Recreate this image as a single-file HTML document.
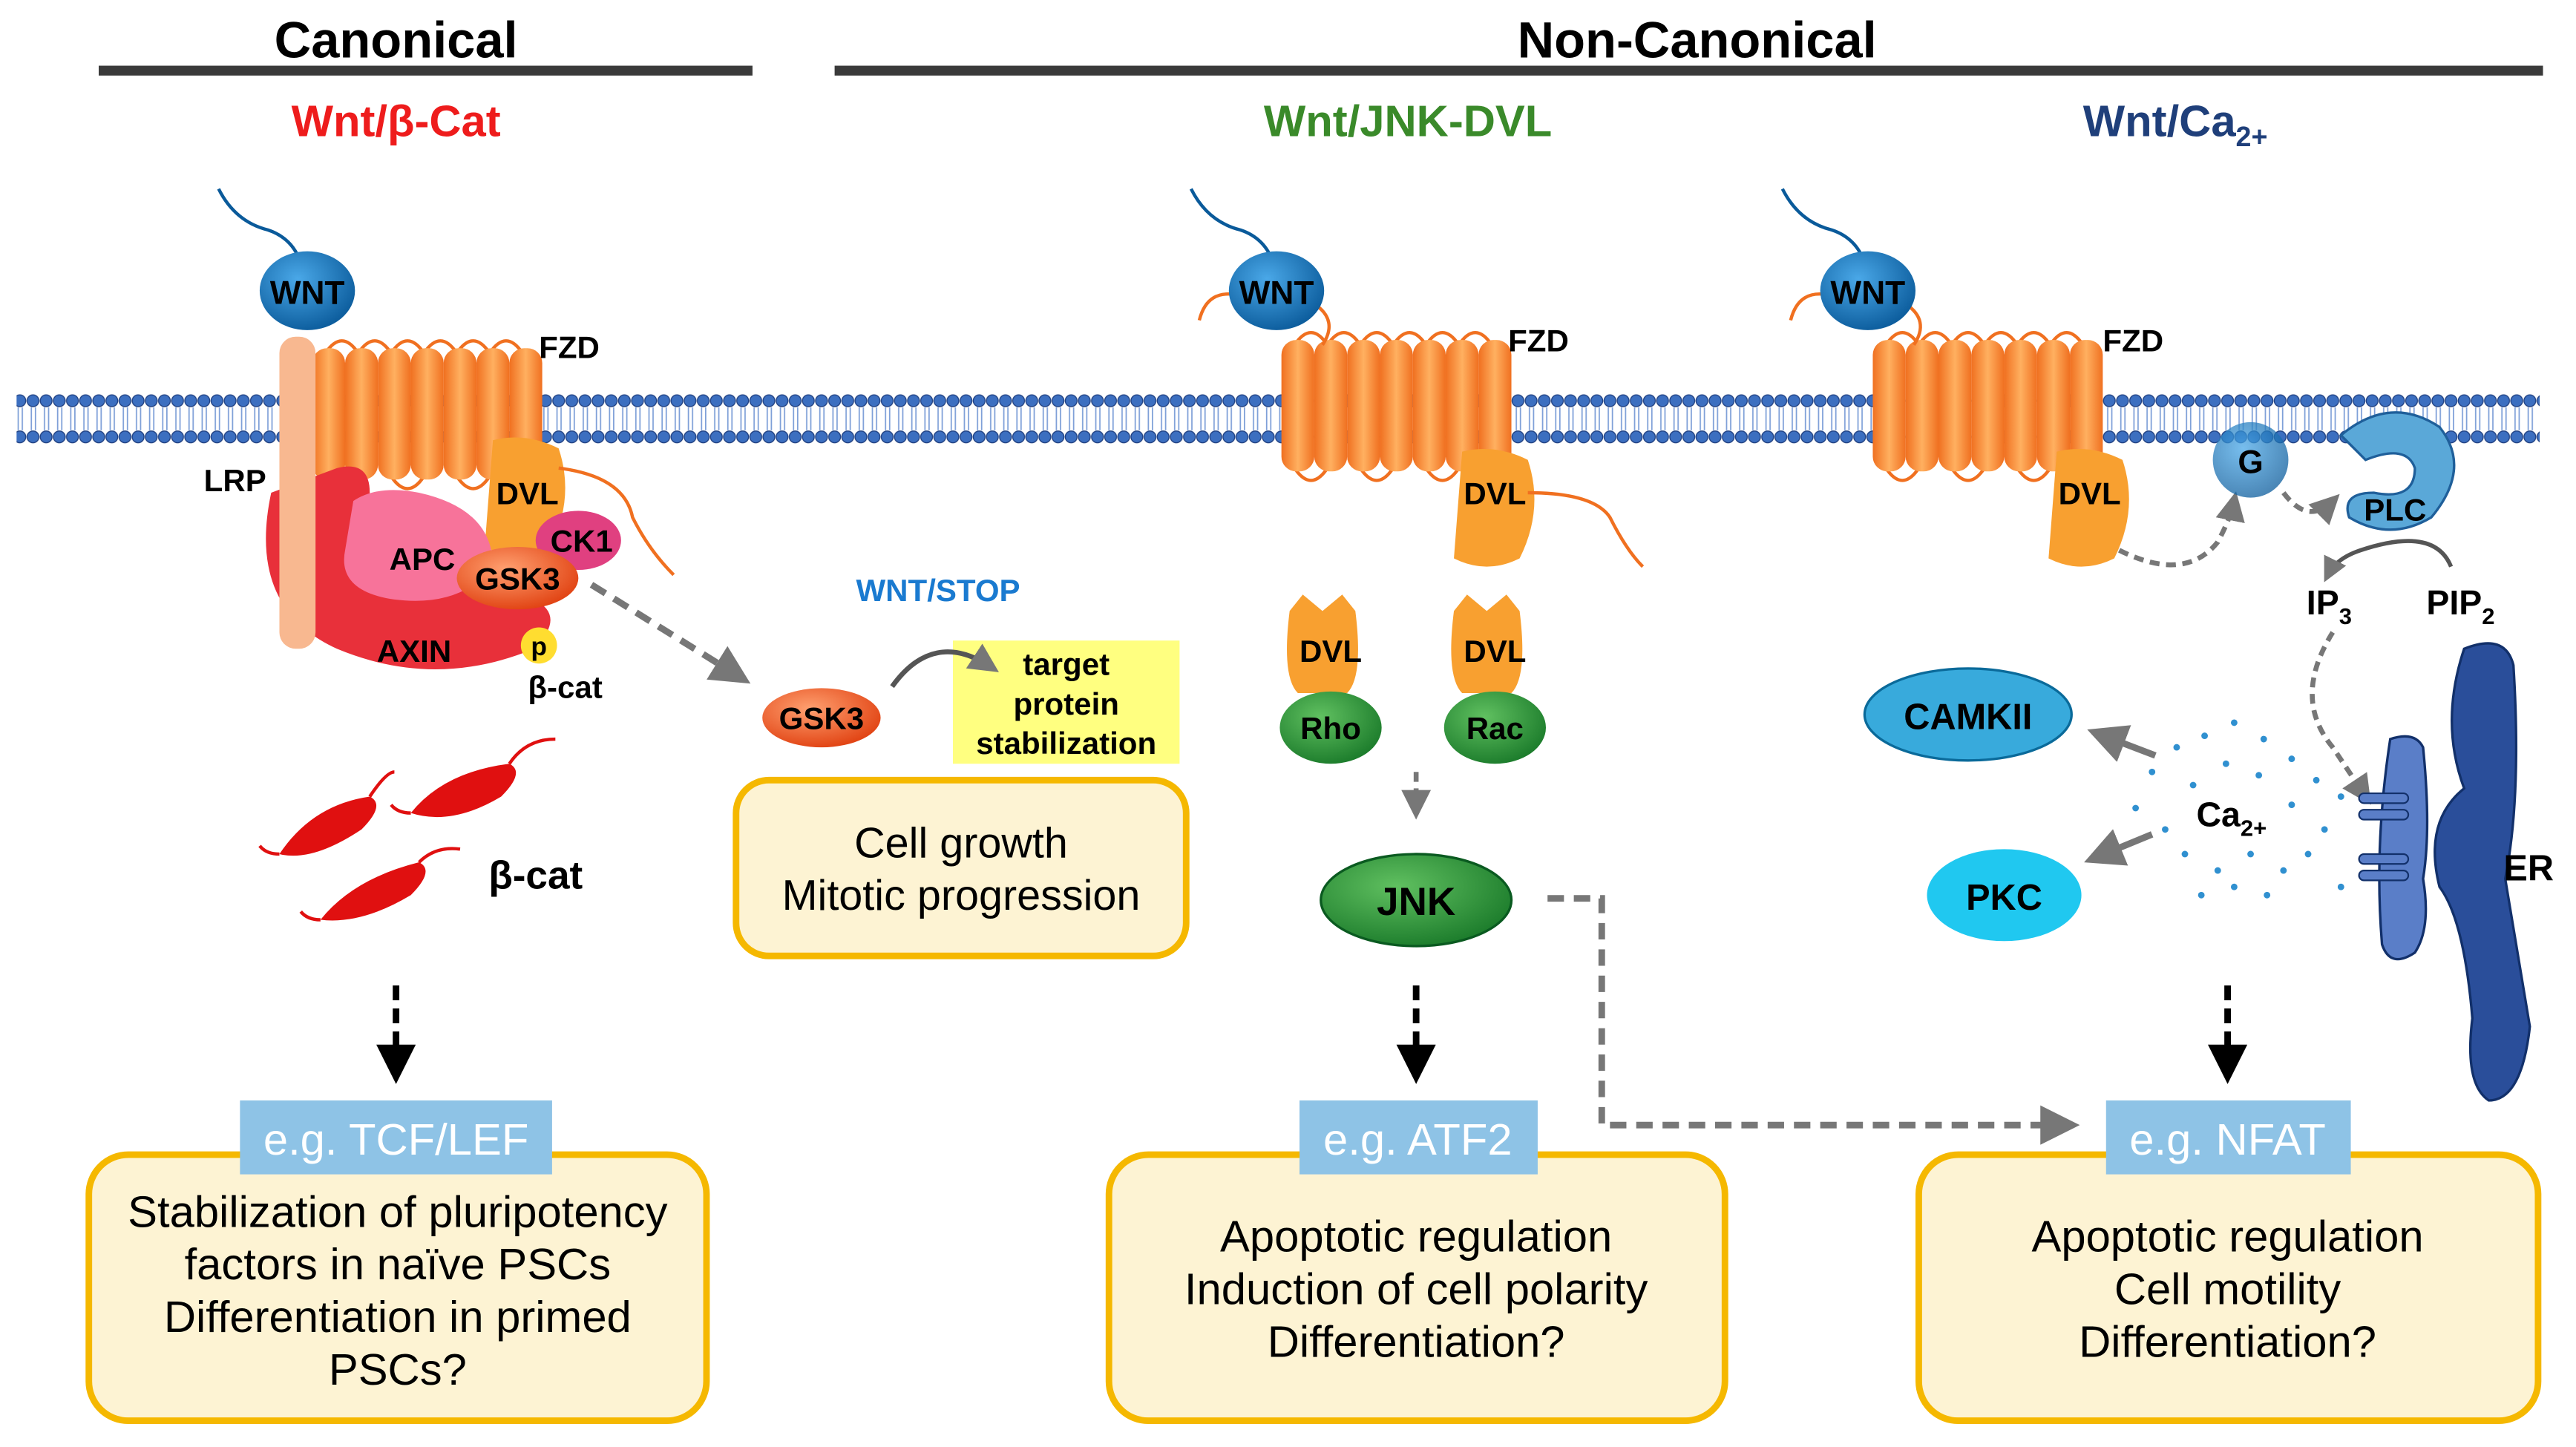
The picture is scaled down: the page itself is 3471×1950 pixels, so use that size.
<!DOCTYPE html>
<html><head><meta charset="utf-8">
<style>
html,body{margin:0;padding:0;background:#fff;}
svg{display:block;}
text{font-family:"Liberation Sans",Arial,sans-serif;}
</style></head>
<body>
<svg width="3471" height="1950" viewBox="0 0 1568 881" xmlns="http://www.w3.org/2000/svg">
<defs>
<pattern id="bead" x="0" y="0" width="8" height="30" patternUnits="userSpaceOnUse">
<circle cx="4" cy="4" r="3.6" fill="#3c6fc0" stroke="#1f3f80" stroke-width="0.6"/>
<circle cx="4" cy="26" r="3.6" fill="#3c6fc0" stroke="#1f3f80" stroke-width="0.6"/>
<line x1="3" y1="8" x2="3" y2="22" stroke="#7fa0d8" stroke-width="0.8"/>
<line x1="5.5" y1="8" x2="5.5" y2="22" stroke="#7fa0d8" stroke-width="0.8"/>
</pattern>
<linearGradient id="org" x1="0" y1="0" x2="1" y2="0">
<stop offset="0" stop-color="#f07020"/><stop offset="0.5" stop-color="#ffb060"/><stop offset="1" stop-color="#f07020"/>
</linearGradient>
<radialGradient id="blu" cx="0.4" cy="0.35" r="0.7"><stop offset="0" stop-color="#4aa8e8"/><stop offset="1" stop-color="#0a5a9a"/></radialGradient>
<radialGradient id="grn" cx="0.4" cy="0.35" r="0.7"><stop offset="0" stop-color="#60c060"/><stop offset="1" stop-color="#1a7a2a"/></radialGradient>
<radialGradient id="gsk" cx="0.4" cy="0.35" r="0.7"><stop offset="0" stop-color="#ffa070"/><stop offset="1" stop-color="#e04010"/></radialGradient>
<marker id="ag" markerWidth="6" markerHeight="6" refX="4" refY="3" orient="auto"><path d="M0,0 L6,3 L0,6z" fill="#777"/></marker>
<marker id="ab" markerWidth="6" markerHeight="6" refX="4" refY="3" orient="auto"><path d="M0,0 L6,3 L0,6z" fill="#000"/></marker>
</defs>

<!-- titles -->
<text x="241" y="35" font-size="31" font-weight="bold" text-anchor="middle">Canonical</text>
<rect x="60" y="40" width="398" height="6" fill="#3a3a3a"/>
<text x="1033" y="35" font-size="31" font-weight="bold" text-anchor="middle">Non-Canonical</text>
<rect x="508" y="40" width="1040" height="6" fill="#3a3a3a"/>
<text x="241" y="83" font-size="27" font-weight="bold" fill="#ee1c1c" text-anchor="middle">Wnt/β-Cat</text>
<text x="857" y="83" font-size="27" font-weight="bold" fill="#3a8a2a" text-anchor="middle">Wnt/JNK-DVL</text>
<text x="1268" y="83" font-size="27" font-weight="bold" fill="#1f3f7a">Wnt/Ca<tspan font-size="17" dy="6">2+</tspan></text>

<!-- membrane -->
<rect x="10" y="240" width="1536" height="30" fill="url(#bead)"/>

<!-- FZD receptors -->
<g id="fzd">
<path d="M198,215 q10,-15 20,0 M218,215 q10,-15 20,0 M238,215 q10,-15 20,0 M258,215 q10,-15 20,0 M278,215 q10,-15 20,0 M298,215 q10,-15 20,0" fill="none" stroke="#f07020" stroke-width="2"/>
<path d="M198,290 q10,15 20,0 M238,290 q10,15 20,0 M278,290 q10,15 20,0 M308,290 q10,15 20,0" fill="none" stroke="#f07020" stroke-width="2"/>
<rect x="190" y="212" width="20" height="80" rx="9" fill="url(#org)"/>
<rect x="210" y="212" width="20" height="80" rx="9" fill="url(#org)"/>
<rect x="230" y="212" width="20" height="80" rx="9" fill="url(#org)"/>
<rect x="250" y="212" width="20" height="80" rx="9" fill="url(#org)"/>
<rect x="270" y="212" width="20" height="80" rx="9" fill="url(#org)"/>
<rect x="290" y="212" width="20" height="80" rx="9" fill="url(#org)"/>
<rect x="310" y="212" width="20" height="80" rx="9" fill="url(#org)"/>
</g>
<use href="#fzd" x="590" y="-5"/>
<use href="#fzd" x="950" y="-5"/>
<text x="328" y="218" font-size="19" font-weight="bold">FZD</text>
<text x="918" y="214" font-size="19" font-weight="bold">FZD</text>
<text x="1280" y="214" font-size="19" font-weight="bold">FZD</text>

<!-- WNT -->
<g fill="none" stroke="#0a5a9a" stroke-width="2">
<path d="M133,115 q10,20 30,25 q15,5 20,20"/>
<path d="M725,115 q10,20 30,25 q15,5 20,20"/>
<path d="M1085,115 q10,20 30,25 q15,5 20,20"/>
</g>
<g fill="none" stroke="#f07020" stroke-width="2">
<path d="M755,180 q-20,-5 -25,15"/><path d="M800,185 q15,10 5,25"/>
<path d="M1115,180 q-20,-5 -25,15"/><path d="M1160,185 q15,10 5,25"/>
</g>
<ellipse cx="187" cy="177" rx="29" ry="24" fill="url(#blu)"/>
<text x="187" y="185" font-size="20" font-weight="bold" text-anchor="middle">WNT</text>
<ellipse cx="777" cy="177" rx="29" ry="24" fill="url(#blu)"/>
<text x="777" y="185" font-size="20" font-weight="bold" text-anchor="middle">WNT</text>
<ellipse cx="1137" cy="177" rx="29" ry="24" fill="url(#blu)"/>
<text x="1137" y="185" font-size="20" font-weight="bold" text-anchor="middle">WNT</text>

<!-- canonical complex -->
<path d="M165,300 q-15,70 40,95 q60,25 120,0 q20,-20 0,-30 l-60,-10 q-40,-10 -40,-55 q0,-20 -20,-15z" fill="#e8303a"/>
<rect x="170" y="205" width="22" height="190" rx="10" fill="#f8b890"/>
<text x="124" y="299" font-size="19" font-weight="bold">LRP</text>
<path d="M300,268 q20,-5 40,5 q10,30 -5,60 q-20,10 -40,0z" fill="#f8a030"/>
<text x="321" y="307" font-size="19" font-weight="bold" text-anchor="middle">DVL</text>
<path d="M340,285 q40,5 45,30 q10,20 25,35" fill="none" stroke="#f07020" stroke-width="2"/>
<path d="M215,305 q15,-10 40,-5 q45,10 45,45 q-20,25 -60,20 q-35,-5 -30,-30z" fill="#f7739a"/>
<text x="257" y="347" font-size="19" font-weight="bold" text-anchor="middle">APC</text>
<ellipse cx="352" cy="329" rx="26" ry="18" fill="#e04080"/>
<text x="354" y="336" font-size="19" font-weight="bold" text-anchor="middle">CK1</text>
<ellipse cx="315" cy="352" rx="37" ry="19" fill="url(#gsk)"/>
<text x="315" y="359" font-size="19" font-weight="bold" text-anchor="middle">GSK3</text>
<path d="M290,400 q20,-25 40,-20 q-5,25 -40,20z" fill="#e8303a"/>
<text x="252" y="403" font-size="19" font-weight="bold" text-anchor="middle">AXIN</text>
<circle cx="328" cy="393" r="11" fill="#ffdd30"/>
<text x="328" y="399" font-size="16" font-weight="bold" text-anchor="middle">p</text>
<text x="344" y="425" font-size="19" font-weight="bold" text-anchor="middle">β-cat</text>
<line x1="360" y1="356" x2="450" y2="412" stroke="#777" stroke-width="4" stroke-dasharray="10,6" marker-end="url(#ag)"/>

<text x="571" y="366" font-size="19" font-weight="bold" fill="#1a7ad0" text-anchor="middle">WNT/STOP</text>
<ellipse cx="500" cy="437" rx="36" ry="18" fill="url(#gsk)"/>
<text x="500" y="444" font-size="19" font-weight="bold" text-anchor="middle">GSK3</text>
<rect x="580" y="390" width="138" height="75" fill="#ffff80"/>
<path d="M543,418 q25,-35 60,-12" fill="none" stroke="#555" stroke-width="3" marker-end="url(#ag)"/>
<text x="649" y="411" font-size="19" font-weight="bold" text-anchor="middle">target</text>
<text x="649" y="435" font-size="19" font-weight="bold" text-anchor="middle">protein</text>
<text x="649" y="459" font-size="19" font-weight="bold" text-anchor="middle">stabilization</text>
<rect x="448" y="475" width="274" height="107" rx="20" fill="#fdf3d3" stroke="#f5b800" stroke-width="4"/>
<text x="585" y="522" font-size="26" text-anchor="middle">Cell growth</text>
<text x="585" y="554" font-size="26" text-anchor="middle">Mitotic progression</text>

<!-- beta-cat squiggles -->
<g fill="#e01010">
<path d="M170,520 q20,-30 55,-35 q10,5 -5,20 q-30,20 -50,15z"/>
<path d="M250,495 q20,-25 60,-30 q10,5 -5,20 q-30,18 -55,10z"/>
<path d="M195,560 q20,-25 60,-35 q10,5 -5,20 q-30,18 -55,15z"/>
</g>
<g fill="none" stroke="#e01010" stroke-width="2">
<path d="M225,485 q10,-15 15,-15"/><path d="M170,520 q-8,0 -12,-5"/>
<path d="M310,465 q10,-15 28,-15"/><path d="M250,495 q-8,0 -12,-5"/>
<path d="M255,525 q10,-10 25,-8"/><path d="M195,560 q-8,0 -12,-5"/>
</g>
<text x="326" y="541" font-size="24" font-weight="bold" text-anchor="middle">β-cat</text>

<!-- JNK pathway -->
<path d="M890,275 q20,-5 40,5 q10,30 -5,60 q-20,10 -40,0z" fill="#f8a030"/>
<text x="910" y="307" font-size="19" font-weight="bold" text-anchor="middle">DVL</text>
<path d="M930,300 q40,0 50,15 q10,20 20,30" fill="none" stroke="#f07020" stroke-width="2"/>
<path d="M785,372 l8,-10 l12,10 l12,-10 l8,10 q5,40 -5,50 h-30 q-10,-10 -5,-50z" fill="#f8a030"/>
<text x="810" y="403" font-size="19" font-weight="bold" text-anchor="middle">DVL</text>
<path d="M885,372 l8,-10 l12,10 l12,-10 l8,10 q5,40 -5,50 h-30 q-10,-10 -5,-50z" fill="#f8a030"/>
<text x="910" y="403" font-size="19" font-weight="bold" text-anchor="middle">DVL</text>
<ellipse cx="810" cy="443" rx="31" ry="22" fill="url(#grn)"/>
<text x="810" y="450" font-size="19" font-weight="bold" text-anchor="middle">Rho</text>
<ellipse cx="910" cy="443" rx="31" ry="22" fill="url(#grn)"/>
<text x="910" y="450" font-size="19" font-weight="bold" text-anchor="middle">Rac</text>
<line x1="862" y1="470" x2="862" y2="493" stroke="#777" stroke-width="3" stroke-dasharray="6,4" marker-end="url(#ag)"/>
<ellipse cx="862" cy="548" rx="58" ry="28" fill="url(#grn)" stroke="#0a5a20" stroke-width="1.5"/>
<text x="862" y="557" font-size="24" font-weight="bold" text-anchor="middle">JNK</text>
<polyline points="942,547 975,547 975,685 1258,685" fill="none" stroke="#777" stroke-width="4" stroke-dasharray="10,6" marker-end="url(#ag)"/>

<!-- Ca pathway -->
<path d="M1252,275 q20,-5 40,5 q10,30 -5,60 q-20,10 -40,0z" fill="#f8a030"/>
<text x="1272" y="307" font-size="19" font-weight="bold" text-anchor="middle">DVL</text>
<path d="M1290,335 q40,20 60,-5 q8,-15 10,-25" fill="none" stroke="#777" stroke-width="3" stroke-dasharray="6,4" marker-end="url(#ag)"/>
<circle cx="1370" cy="280" r="23" fill="url(#blu)" opacity="0.75"/>
<text x="1370" y="288" font-size="20" font-weight="bold" text-anchor="middle">G</text>
<path d="M1390,300 q15,20 30,5" fill="none" stroke="#777" stroke-width="3" stroke-dasharray="6,4" marker-end="url(#ag)"/>
<path d="M1425,265 q30,-25 60,-5 q20,25 -5,55 q-25,15 -50,0 q-5,-15 15,-15 q25,5 25,-15 q-5,-15 -30,-5z" fill="#5aa8d8" stroke="#1f5f9a" stroke-width="1.5"/>
<text x="1458" y="317" font-size="19" font-weight="bold" text-anchor="middle">PLC</text>
<path d="M1492,345 q-10,-25 -55,-10 q-15,5 -20,15" fill="none" stroke="#555" stroke-width="2.5" marker-end="url(#ag)"/>
<text x="1404" y="374" font-size="21" font-weight="bold">IP<tspan font-size="14" dy="6">3</tspan></text>
<text x="1477" y="374" font-size="21" font-weight="bold">PIP<tspan font-size="14" dy="6">2</tspan></text>
<path d="M1420,385 q-25,40 0,70 q10,15 20,30" fill="none" stroke="#777" stroke-width="3" stroke-dasharray="6,4" marker-end="url(#ag)"/>

<ellipse cx="1198" cy="435" rx="63" ry="28" fill="#38aadc" stroke="#0a6a9a" stroke-width="1.5"/>
<text x="1198" y="444" font-size="22" font-weight="bold" text-anchor="middle">CAMKII</text>
<ellipse cx="1220" cy="545" rx="47" ry="28" fill="#20c8f0"/>
<text x="1220" y="554" font-size="22" font-weight="bold" text-anchor="middle">PKC</text>
<line x1="1312" y1="460" x2="1278" y2="447" stroke="#777" stroke-width="4" marker-end="url(#ag)"/>
<line x1="1310" y1="508" x2="1276" y2="522" stroke="#777" stroke-width="4" marker-end="url(#ag)"/>
<g fill="#3090d0">
<circle cx="1310" cy="470" r="2"/><circle cx="1325" cy="455" r="2"/><circle cx="1342" cy="448" r="2"/><circle cx="1360" cy="440" r="2"/>
<circle cx="1378" cy="450" r="2"/><circle cx="1395" cy="462" r="2"/><circle cx="1410" cy="475" r="2"/><circle cx="1300" cy="492" r="2"/>
<circle cx="1318" cy="505" r="2"/><circle cx="1335" cy="478" r="2"/><circle cx="1355" cy="465" r="2"/><circle cx="1375" cy="472" r="2"/>
<circle cx="1395" cy="490" r="2"/><circle cx="1415" cy="505" r="2"/><circle cx="1330" cy="520" r="2"/><circle cx="1350" cy="530" r="2"/>
<circle cx="1370" cy="520" r="2"/><circle cx="1390" cy="530" r="2"/><circle cx="1405" cy="520" r="2"/><circle cx="1360" cy="540" r="2"/>
<circle cx="1380" cy="545" r="2"/><circle cx="1425" cy="540" r="2"/><circle cx="1340" cy="545" r="2"/><circle cx="1425" cy="485" r="2"/>
</g>
<text x="1337" y="503" font-size="21" font-weight="bold">Ca<tspan font-size="14" dy="6">2+</tspan></text>

<!-- ER -->
<path d="M1500,395 q25,-10 30,10 q5,80 -5,130 q10,60 15,90 q-5,45 -25,45 q-15,-10 -10,-50 q-5,-60 -20,-80 q-10,-40 15,-60 q-15,-40 0,-85z" fill="#2a4e9a" stroke="#12306a" stroke-width="1.5"/>
<path d="M1455,450 q15,-5 20,5 q5,50 0,80 q5,30 -5,45 q-15,10 -20,-5 q-5,-60 5,-125z" fill="#5a7ec8" stroke="#12306a" stroke-width="1.5"/>
<rect x="1436" y="483" width="30" height="6" rx="3" fill="#5a7ec8" stroke="#12306a"/>
<rect x="1436" y="493" width="30" height="6" rx="3" fill="#5a7ec8" stroke="#12306a"/>
<rect x="1436" y="520" width="30" height="6" rx="3" fill="#5a7ec8" stroke="#12306a"/>
<rect x="1436" y="530" width="30" height="6" rx="3" fill="#5a7ec8" stroke="#12306a"/>
<text x="1524" y="536" font-size="22" font-weight="bold">ER</text>

<!-- black dashed arrows -->
<line x1="241" y1="600" x2="241" y2="652" stroke="#000" stroke-width="4" stroke-dasharray="9,5" marker-end="url(#ab)"/>
<line x1="862" y1="600" x2="862" y2="652" stroke="#000" stroke-width="4" stroke-dasharray="9,5" marker-end="url(#ab)"/>
<line x1="1356" y1="600" x2="1356" y2="652" stroke="#000" stroke-width="4" stroke-dasharray="9,5" marker-end="url(#ab)"/>

<!-- bottom boxes -->
<rect x="54" y="703" width="376" height="162" rx="24" fill="#fdf3d3" stroke="#f5b800" stroke-width="4"/>
<rect x="675" y="703" width="375" height="162" rx="24" fill="#fdf3d3" stroke="#f5b800" stroke-width="4"/>
<rect x="1168" y="703" width="377" height="162" rx="24" fill="#fdf3d3" stroke="#f5b800" stroke-width="4"/>
<rect x="146" y="670" width="190" height="45" fill="#8ec3e6"/>
<text x="241" y="703" font-size="27" fill="#fff" text-anchor="middle">e.g. TCF/LEF</text>
<rect x="791" y="670" width="145" height="45" fill="#8ec3e6"/>
<text x="863" y="703" font-size="27" fill="#fff" text-anchor="middle">e.g. ATF2</text>
<rect x="1282" y="670" width="149" height="45" fill="#8ec3e6"/>
<text x="1356" y="703" font-size="27" fill="#fff" text-anchor="middle">e.g. NFAT</text>

<g font-size="27" text-anchor="middle">
<text x="242" y="747">Stabilization of pluripotency</text>
<text x="242" y="779">factors in naïve PSCs</text>
<text x="242" y="811">Differentiation in primed</text>
<text x="242" y="843">PSCs?</text>
<text x="862" y="762">Apoptotic regulation</text>
<text x="862" y="794">Induction of cell polarity</text>
<text x="862" y="826">Differentiation?</text>
<text x="1356" y="762">Apoptotic regulation</text>
<text x="1356" y="794">Cell motility</text>
<text x="1356" y="826">Differentiation?</text>
</g>
</svg>
</body></html>
